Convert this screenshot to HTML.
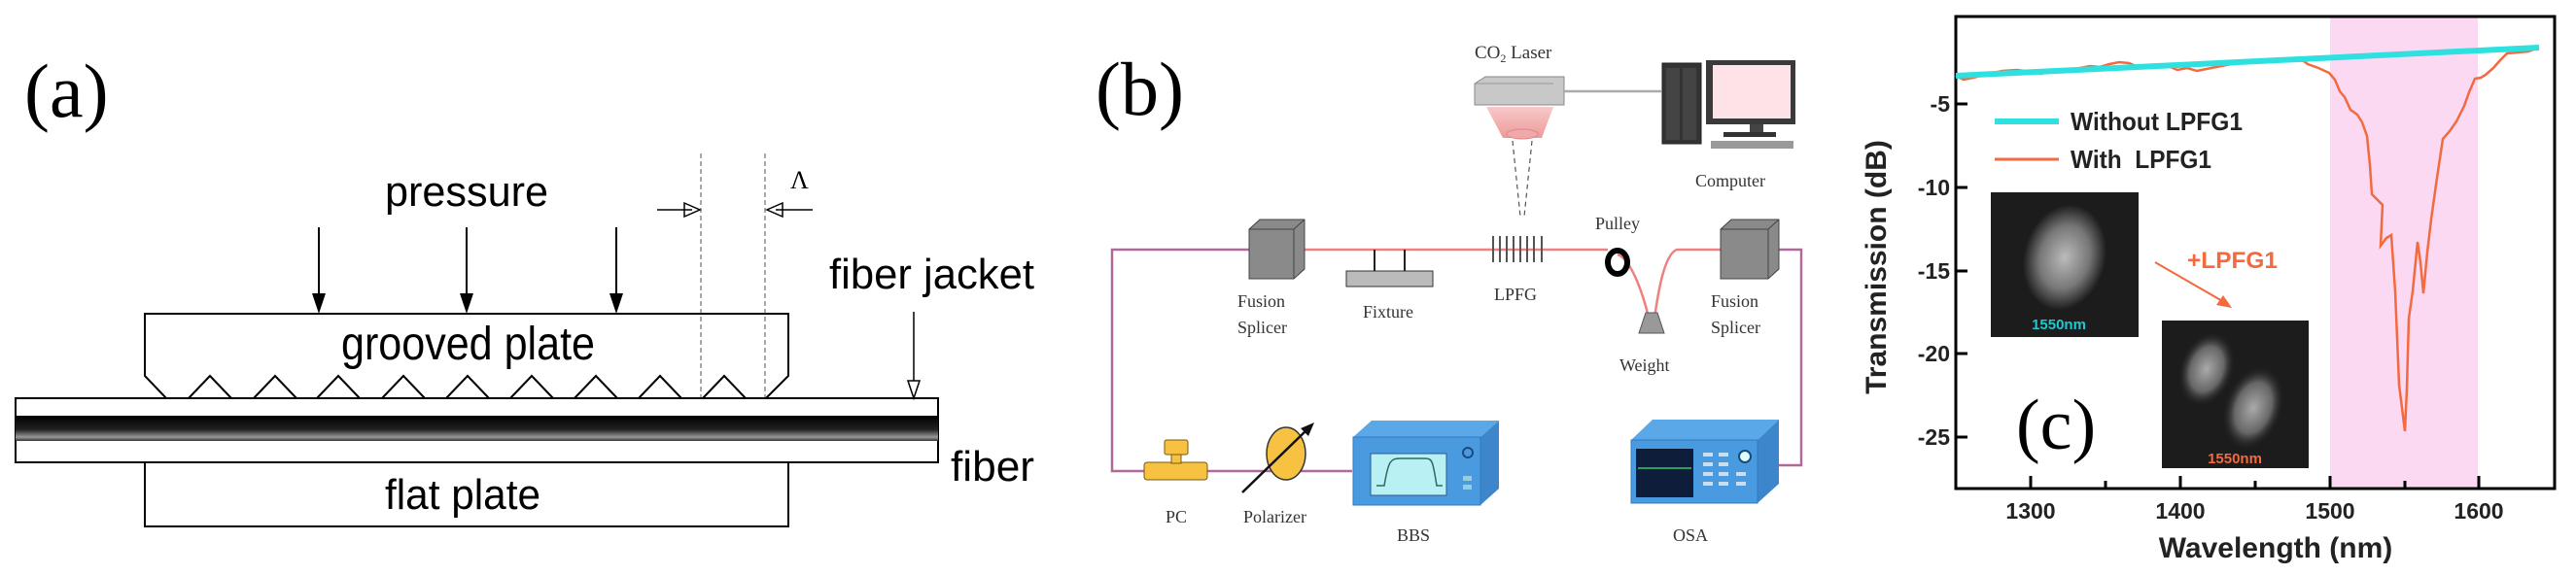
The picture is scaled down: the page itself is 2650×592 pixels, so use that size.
<!DOCTYPE html>
<html><head><meta charset="utf-8"><style>
html,body{margin:0;padding:0;background:#fff;}
svg{display:block;}
.sa{font-family:"Liberation Sans",sans-serif;}
.se{font-family:"Liberation Serif",serif;}
</style></head><body>
<svg width="2650" height="592" viewBox="0 0 2650 592" xmlns="http://www.w3.org/2000/svg">
<defs>
<linearGradient id="core" x1="0" y1="0" x2="0" y2="1">
<stop offset="0" stop-color="#000"/><stop offset="0.55" stop-color="#222"/><stop offset="0.85" stop-color="#999"/><stop offset="1" stop-color="#333"/>
</linearGradient>
<radialGradient id="spot1" cx="0.5" cy="0.5" r="0.5"><stop offset="0" stop-color="#bbb"/><stop offset="0.6" stop-color="#777"/><stop offset="1" stop-color="#1c1c1c"/></radialGradient>
<radialGradient id="spot2" cx="0.5" cy="0.5" r="0.5"><stop offset="0" stop-color="#aaa"/><stop offset="0.6" stop-color="#666"/><stop offset="1" stop-color="#1c1c1c" stop-opacity="0"/></radialGradient>
<linearGradient id="cone" x1="0" y1="0" x2="0" y2="1"><stop offset="0" stop-color="#f7c9c9"/><stop offset="1" stop-color="#ee9a9a"/></linearGradient>
</defs>

<!-- ============ PANEL A ============ -->
<text x="25" y="120" class="se" font-size="78">(a)</text>
<text x="396" y="212" class="sa" font-size="44" textLength="168" lengthAdjust="spacingAndGlyphs">pressure</text>
<g stroke="#000" stroke-width="2">
<line x1="328" y1="234" x2="328" y2="305"/><line x1="480" y1="234" x2="480" y2="305"/><line x1="634" y1="234" x2="634" y2="305"/>
</g>
<g fill="#000"><path d="M321 302 L335 302 L328 323Z"/><path d="M473 302 L487 302 L480 323Z"/><path d="M627 302 L641 302 L634 323Z"/></g>
<!-- grooved plate -->
<path d="M149 323 L811 323 L811 387 L788 410 L171 410 L149 387 Z" fill="#fff" stroke="#000" stroke-width="2"/>
<g fill="none" stroke="#000" stroke-width="2">
<path d="M194 410 L216 387 L238 410"/><path d="M261 410 L283 387 L305 410"/><path d="M326 410 L348 387 L370 410"/><path d="M393 410 L415 387 L437 410"/><path d="M459 410 L481 387 L503 410"/><path d="M525 410 L547 387 L569 410"/><path d="M591 410 L613 387 L635 410"/><path d="M657 410 L679 387 L701 410"/><path d="M723 410 L745 387 L767 410"/>
</g>
<text x="351" y="370" class="sa" font-size="48" textLength="261" lengthAdjust="spacingAndGlyphs">grooved plate</text>
<!-- dashed -->
<g stroke="#555" stroke-width="1" stroke-dasharray="5,3"><line x1="721" y1="158" x2="721" y2="410"/><line x1="787" y1="158" x2="787" y2="410"/></g>
<text x="813" y="194" class="se" font-size="26">Λ</text>
<g stroke="#000" stroke-width="1.5" fill="none">
<line x1="676" y1="216" x2="712" y2="216"/><path d="M704 209 L720 216 L704 223 Z"/>
<line x1="836" y1="216" x2="798" y2="216"/><path d="M805 209 L789 216 L805 223 Z"/>
</g>
<!-- fiber -->
<rect x="16" y="410" width="949" height="66" fill="#fff" stroke="#000" stroke-width="2"/>
<rect x="16" y="428" width="949" height="26" fill="url(#core)"/>
<!-- flat plate -->
<rect x="149" y="476" width="662" height="66" fill="#fff" stroke="#000" stroke-width="2"/>
<text x="396" y="524" class="sa" font-size="44" textLength="160" lengthAdjust="spacingAndGlyphs">flat plate</text>
<text x="853" y="297" class="sa" font-size="44" textLength="211" lengthAdjust="spacingAndGlyphs">fiber jacket</text>
<line x1="940" y1="321" x2="940" y2="400" stroke="#000" stroke-width="1.5"/>
<path d="M934 392 L940 410 L946 392 Z" fill="#fff" stroke="#000" stroke-width="1.5"/>
<text x="978" y="495" class="sa" font-size="44" textLength="86" lengthAdjust="spacingAndGlyphs">fiber</text>

<!-- ============ PANEL B ============ -->
<text x="1127" y="118" class="se" font-size="78">(b)</text>
<text x="1517" y="60" class="se" font-size="19" fill="#333">CO<tspan font-size="12" dy="4">2</tspan><tspan dy="-4"> Laser</tspan></text>
<!-- laser -->
<path d="M1517 86 L1528 79 L1609 79 L1609 108 L1517 108 Z" fill="#c8c8c8" stroke="#888"/>
<line x1="1517" y1="86" x2="1598" y2="86" stroke="#999"/>
<path d="M1529 110 L1598 110 L1586 142 L1546 142 Z" fill="url(#cone)"/>
<ellipse cx="1566" cy="138" rx="16" ry="5" fill="#f1a8a8" stroke="#d88"/>
<g stroke="#555" stroke-width="1.2" stroke-dasharray="5,4"><line x1="1556" y1="145" x2="1564" y2="223"/><line x1="1576" y1="145" x2="1568" y2="223"/></g>
<line x1="1609" y1="94" x2="1709" y2="94" stroke="#aaa" stroke-width="2.5"/>
<!-- computer -->
<rect x="1710" y="65" width="40" height="83" fill="#333" stroke="#222"/>
<rect x="1714" y="70" width="14" height="74" fill="#444"/><rect x="1731" y="70" width="14" height="74" fill="#444"/>
<rect x="1755" y="62" width="92" height="66" fill="#3a3a3a"/>
<rect x="1762" y="67" width="80" height="55" fill="#fde3e8"/>
<rect x="1800" y="128" width="14" height="9" fill="#444"/>
<rect x="1773" y="136" width="54" height="5" fill="#333"/>
<rect x="1760" y="145" width="85" height="8" fill="#999"/>
<text x="1744" y="192" class="se" font-size="18" fill="#333">Computer</text>
<!-- fiber loop -->
<g fill="none" stroke="#b06a9a" stroke-width="2.5">
<path d="M1285 257 L1144 257 L1144 485 L1391 485"/>
<path d="M1830 257 L1853 257 L1853 479 L1830 479"/>
</g>
<g fill="none" stroke="#f08080" stroke-width="2.5">
<line x1="1342" y1="257" x2="1654" y2="257"/>
<path d="M1664 262 C1680 268 1692 310 1696 327"/>
<path d="M1702 327 C1706 300 1712 262 1725 257 L1770 257"/>
</g>
<!-- splicers -->
<g>
<path d="M1285 236 L1296 226 L1342 226 L1342 277 L1331 287 L1285 287 Z" fill="#8a8a8a" stroke="#444"/>
<path d="M1285 236 L1331 236 L1331 287" fill="none" stroke="#444"/><line x1="1331" y1="236" x2="1342" y2="226" stroke="#444"/>
<path d="M1770 236 L1781 226 L1830 226 L1830 277 L1819 287 L1770 287 Z" fill="#8a8a8a" stroke="#444"/>
<path d="M1770 236 L1819 236 L1819 287" fill="none" stroke="#444"/><line x1="1819" y1="236" x2="1830" y2="226" stroke="#444"/>
</g>
<!-- fixture -->
<rect x="1385" y="279" width="89" height="16" fill="#bbb" stroke="#333"/>
<line x1="1414" y1="257" x2="1414" y2="279" stroke="#222" stroke-width="2"/><line x1="1445" y1="257" x2="1445" y2="279" stroke="#222" stroke-width="2"/>
<!-- LPFG -->
<g stroke="#555" stroke-width="2"><line x1="1536" y1="243" x2="1536" y2="270"/><line x1="1543" y1="243" x2="1543" y2="270"/><line x1="1550" y1="243" x2="1550" y2="270"/><line x1="1557" y1="243" x2="1557" y2="270"/><line x1="1564" y1="243" x2="1564" y2="270"/><line x1="1571" y1="243" x2="1571" y2="270"/><line x1="1578" y1="243" x2="1578" y2="270"/><line x1="1586" y1="243" x2="1586" y2="270"/></g>
<!-- pulley -->
<ellipse cx="1664" cy="270" rx="10" ry="12" fill="none" stroke="#000" stroke-width="6"/>
<!-- weight -->
<path d="M1693 322 L1705 322 L1712 343 L1686 343 Z" fill="#999" stroke="#555"/>
<g class="se" font-size="18" fill="#333">
<text x="1273" y="316">Fusion</text><text x="1273" y="343">Splicer</text>
<text x="1402" y="327">Fixture</text>
<text x="1537" y="309">LPFG</text>
<text x="1641" y="236">Pulley</text>
<text x="1666" y="382">Weight</text>
<text x="1760" y="316">Fusion</text><text x="1760" y="343">Splicer</text>
<text x="1199" y="538">PC</text>
<text x="1279" y="538">Polarizer</text>
<text x="1437" y="557">BBS</text>
<text x="1721" y="557">OSA</text>
</g>
<!-- PC -->
<rect x="1177" y="476" width="65" height="18" rx="3" fill="#f7c242" stroke="#7a5a10"/>
<rect x="1205" y="467" width="10" height="10" fill="#f7c242" stroke="#7a5a10"/>
<rect x="1198" y="453" width="24" height="15" rx="2" fill="#f7c242" stroke="#7a5a10"/>
<!-- polarizer -->
<ellipse cx="1323" cy="467" rx="20" ry="27" fill="#f7c242" stroke="#333" stroke-width="1.5"/>
<line x1="1278" y1="507" x2="1346" y2="441" stroke="#111" stroke-width="2.5"/>
<path d="M1352 435 L1338 441 L1346 449 Z" fill="#111"/>
<!-- BBS -->
<path d="M1392 450 L1411 433 L1542 433 L1523 450 Z" fill="#5aa8e8"/>
<path d="M1523 450 L1542 433 L1542 503 L1523 520 Z" fill="#3d86cc"/>
<rect x="1392" y="450" width="131" height="70" fill="#4a9ae0" stroke="#3478c0"/>
<rect x="1410" y="467" width="78" height="43" fill="#b8f0f4" stroke="#2a5a90"/>
<path d="M1416 500 L1424 500 C1428 476 1430 472 1440 472 L1466 472 C1474 472 1474 476 1478 500 L1484 500" fill="none" stroke="#2a6a60" stroke-width="1.5"/>
<circle cx="1510" cy="466" r="5" fill="none" stroke="#1a4a80" stroke-width="2"/>
<rect x="1505" y="490" width="9" height="5" fill="#9cd"/><rect x="1505" y="499" width="9" height="5" fill="#9cd"/>
<!-- OSA -->
<path d="M1678 453 L1700 432 L1830 432 L1808 453 Z" fill="#5aa8e8"/>
<path d="M1808 453 L1830 432 L1830 498 L1808 518 Z" fill="#3d86cc"/>
<rect x="1678" y="453" width="130" height="65" fill="#4a9ae0" stroke="#3478c0"/>
<rect x="1683" y="462" width="59" height="50" fill="#0e1e3a"/>
<line x1="1685" y1="482" x2="1740" y2="482" stroke="#3c6" stroke-width="1.5"/>
<g fill="#cde"><rect x="1752" y="466" width="10" height="4"/><rect x="1768" y="466" width="10" height="4"/><rect x="1752" y="476" width="10" height="4"/><rect x="1768" y="476" width="10" height="4"/><rect x="1752" y="486" width="10" height="4"/><rect x="1768" y="486" width="10" height="4"/><rect x="1752" y="496" width="10" height="4"/><rect x="1768" y="496" width="10" height="4"/><rect x="1786" y="496" width="10" height="4"/><rect x="1786" y="486" width="10" height="4"/></g>
<circle cx="1795" cy="470" r="6" fill="#dff" stroke="#1a4a80" stroke-width="2"/>

<!-- ============ PANEL C ============ -->
<rect x="2397" y="17" width="152" height="486" fill="#fbd9f3"/>
<rect x="2012" y="17" width="616" height="486" fill="none" stroke="#000" stroke-width="3"/>
<g stroke="#000" stroke-width="3">
<line x1="2012" y1="107" x2="2024" y2="107"/><line x1="2012" y1="193" x2="2024" y2="193"/><line x1="2012" y1="279" x2="2024" y2="279"/><line x1="2012" y1="364" x2="2024" y2="364"/><line x1="2012" y1="450" x2="2024" y2="450"/>
<line x1="2089" y1="503" x2="2089" y2="490"/><line x1="2166" y1="503" x2="2166" y2="495"/><line x1="2243" y1="503" x2="2243" y2="490"/><line x1="2320" y1="503" x2="2320" y2="495"/><line x1="2397" y1="503" x2="2397" y2="490"/><line x1="2474" y1="503" x2="2474" y2="495"/><line x1="2550" y1="503" x2="2550" y2="490"/>
</g>
<g class="sa" font-weight="bold" font-size="23" fill="#222" text-anchor="end">
<text x="2006" y="115">-5</text><text x="2006" y="201">-10</text><text x="2006" y="287">-15</text><text x="2006" y="372">-20</text><text x="2006" y="458">-25</text>
</g>
<g class="sa" font-weight="bold" font-size="23" fill="#222" text-anchor="middle">
<text x="2089" y="534">1300</text><text x="2243" y="534">1400</text><text x="2397" y="534">1500</text><text x="2550" y="534">1600</text>
</g>
<text x="2341" y="574" class="sa" font-weight="bold" font-size="30" fill="#222" text-anchor="middle">Wavelength (nm)</text>
<text transform="translate(1940,275) rotate(-90)" class="sa" font-weight="bold" font-size="30" fill="#222" text-anchor="middle">Transmission (dB)</text>
<!-- curves -->
<polyline fill="none" stroke="#f26a3e" stroke-width="2.5" points="2012,78 2020,82 2030,80 2045,76 2060,73 2075,72 2090,74 2100,76 2110,72 2125,73 2140,70 2150,68 2160,69 2170,66 2180,64 2190,65 2200,69 2210,68 2220,67 2230,68 2240,72 2250,70 2260,73 2275,70 2290,67 2300,65 2310,63 2325,62 2340,63 2350,61 2360,61 2370,63 2374,66 2385,70 2396,75 2402,82 2407,94 2412,100 2418,113 2425,118 2430,126 2435,140 2438,170 2440,200 2445,205 2451,211 2449,253 2455,245 2460,242 2464,300 2468,396 2471,420 2474,444 2476,400 2478,328 2482,300 2487,249 2490,270 2493,302 2497,260 2501,226 2506,190 2513,143 2520,135 2527,125 2535,109 2540,95 2546,81 2552,80 2557,77 2565,70 2572,62 2579,55 2590,54 2601,53 2612,49"/>
<line x1="2012" y1="78" x2="2612" y2="49" stroke="#2ee0e0" stroke-width="6"/>
<!-- legend -->
<line x1="2052" y1="125" x2="2118" y2="125" stroke="#2ee0e0" stroke-width="6"/>
<text x="2130" y="134" class="sa" font-weight="bold" font-size="26" fill="#222" textLength="177" lengthAdjust="spacingAndGlyphs">Without LPFG1</text>
<line x1="2052" y1="164" x2="2118" y2="164" stroke="#f26a3e" stroke-width="3"/>
<text x="2130" y="173" class="sa" font-weight="bold" font-size="26" fill="#222" xml:space="preserve" textLength="145" lengthAdjust="spacingAndGlyphs">With  LPFG1</text>
<!-- insets -->
<rect x="2048" y="198" width="152" height="149" fill="#1c1c1c"/>
<ellipse cx="2124" cy="265" rx="42" ry="55" fill="url(#spot1)" transform="rotate(15 2124 265)"/>
<text x="2118" y="339" class="sa" font-weight="bold" font-size="15" fill="#1ec8d0" text-anchor="middle">1550nm</text>
<rect x="2224" y="330" width="151" height="152" fill="#1c1c1c"/>
<ellipse cx="2270" cy="380" rx="28" ry="40" fill="url(#spot2)" transform="rotate(20 2270 380)"/>
<ellipse cx="2318" cy="420" rx="30" ry="45" fill="url(#spot2)" transform="rotate(20 2318 420)"/>
<text x="2299" y="477" class="sa" font-weight="bold" font-size="15" fill="#f26a3e" text-anchor="middle">1550nm</text>
<text x="2250" y="276" class="sa" font-weight="bold" font-size="24" fill="#f26a3e" textLength="93" lengthAdjust="spacingAndGlyphs">+LPFG1</text>
<line x1="2217" y1="270" x2="2288" y2="311" stroke="#f26a3e" stroke-width="2"/>
<path d="M2296 317 L2280 314 L2287 304 Z" fill="#f26a3e"/>
<text x="2074" y="462" class="se" font-size="74">(c)</text>
</svg>
</body></html>
